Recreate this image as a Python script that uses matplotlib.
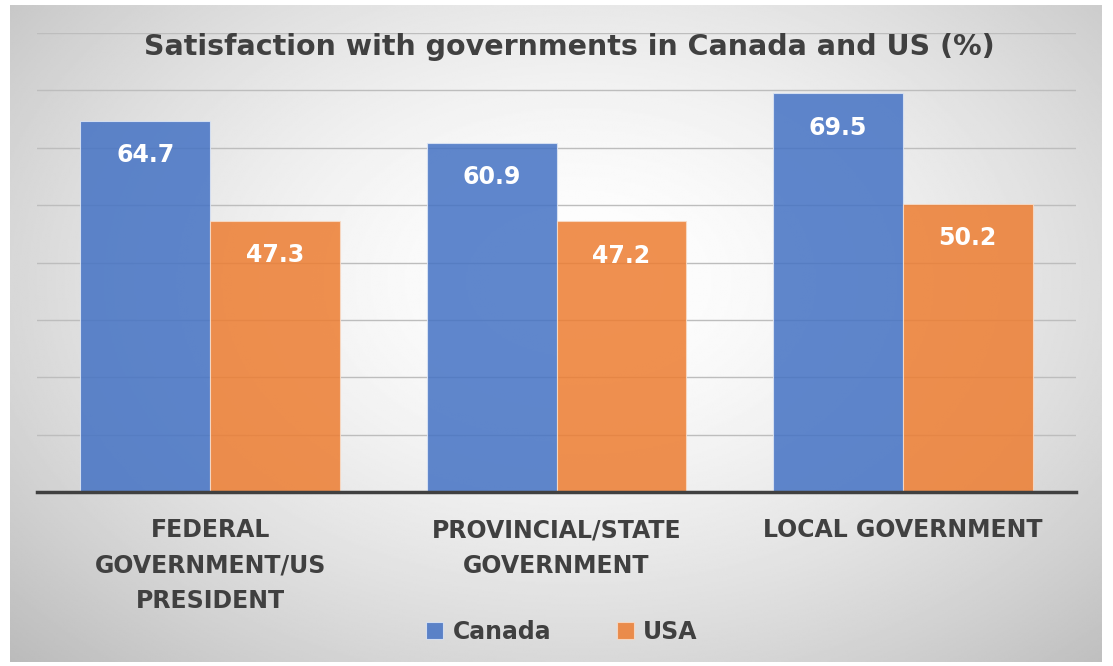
import matplotlib.pyplot as plt
import numpy as np

categories = ['FEDERAL\nGOVERNMENT/US\nPRESIDENT', 'PROVINCIAL/STATE\nGOVERNMENT', 'LOCAL GOVERNMENT']
canada = [64.7, 60.9, 69.5]
usa = [47.3, 47.2, 50.2]
series_names = ['Canada', 'USA']
title = 'Satisfaction with governments in Canada and US (%)'

font = 'DejaVu Sans'
dark = '#404040'

fig = plt.figure(figsize=(11.13, 6.66), dpi=100)

# radial grey background
bg = fig.add_axes([10/1113, 4/666, 1092/1113, 657/666])
yy, xx = np.mgrid[0:1:400j, 0:1:700j]
d = np.sqrt(((xx - 0.52) / 0.75) ** 2 + ((yy - 0.42) / 0.85) ** 2)
shade = 1.0 - 0.28 * np.clip(d, 0, 1) ** 1.6
bg.imshow(shade, cmap='gray', vmin=0, vmax=1, aspect='auto', extent=[0, 1, 0, 1])
bg.axis('off')

ax = fig.add_axes([37/1113, 1 - 492/666, 1039/1113, 459/666])
ax.patch.set_alpha(0)

x = np.arange(len(categories))
w = 0.375
b1 = ax.bar(x - w/2, canada, w, color='#4472C4', alpha=0.85, edgecolor='#dde6f5', linewidth=0.8,
            label=series_names[0], zorder=3)
b2 = ax.bar(x + w/2, usa, w, color='#ED7D31', alpha=0.85, edgecolor='#f8dcc8', linewidth=0.8,
            label=series_names[1], zorder=3)

for bars, vals in ((b1, canada), (b2, usa)):
    for r, v in zip(bars, vals):
        ax.text(r.get_x() + r.get_width()/2, v - 6, f'{v:.1f}', ha='center', va='center',
                color='white', fontsize=17, fontweight='bold', family=font, zorder=4)

ax.set_xlim(-0.5, 2.5)
ax.set_ylim(0, 80)
ax.set_yticks(np.arange(10, 81, 10))
ax.yaxis.grid(True, color='#bdbdbd', linewidth=1, zorder=0)
ax.tick_params(axis='y', length=0, labelleft=False)
ax.tick_params(axis='x', length=0, pad=19)
ax.set_xticks(x)
ax.set_xticklabels(categories, fontsize=17, fontweight='bold', family=font, color=dark,
                   linespacing=1.6, va='top')
for s in ('top', 'right', 'left'):
    ax.spines[s].set_visible(False)
ax.spines['bottom'].set_color(dark)
ax.spines['bottom'].set_linewidth(2.5)
ax.spines['bottom'].set_zorder(5)

fig.text(0.512, 1 - 47/666, title, ha='center', va='center', fontsize=20.5,
         fontweight='bold', family=font, color=dark)

fig.legend(loc='center', bbox_to_anchor=(0.505, 1 - 632/666), ncol=2, frameon=False,
           prop={'family': font, 'weight': 'bold', 'size': 17}, labelcolor=dark,
           handlelength=0.7, handleheight=0.7, handletextpad=0.4, columnspacing=2.8)

fig.savefig('out.png', dpi=100)
